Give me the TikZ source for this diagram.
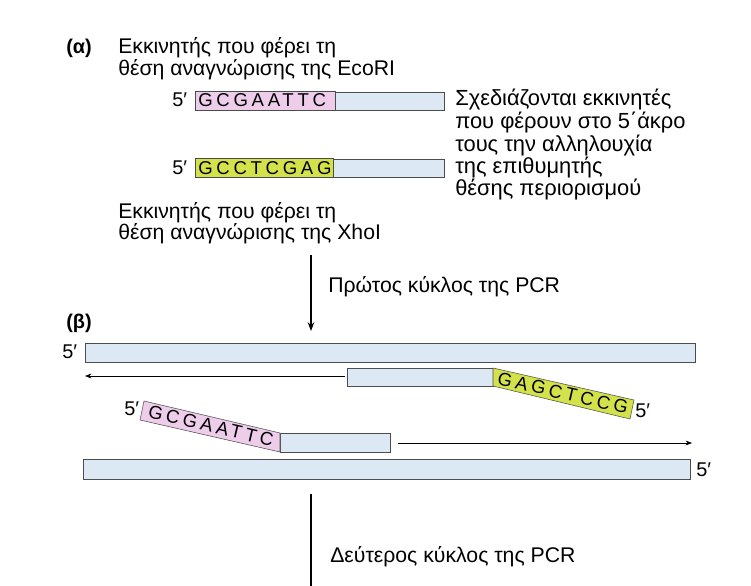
\documentclass[tikz,border=0pt]{standalone}
\usepackage{fontspec}
\setmainfont{Liberation Sans}
\usetikzlibrary{positioning, arrows.meta}
\definecolor{pinkbox}{HTML}{EDCDEA}
\definecolor{bluebox}{HTML}{DCE8F3}
\definecolor{greenbox}{HTML}{D3E14B}
\begin{document}
\begin{tikzpicture}[x=0.0265cm, y=-0.0265cm, >=Stealth, every node/.style={font=\fontsize{16}{18}\selectfont},
    strand/.style={draw=black!70, fill=bluebox},
    seq/.style={font=\fontsize{14}{16}\selectfont\addfontfeature{LetterSpace=20}},
    note/.style={font=\fontsize{16.5}{18}\selectfont},
    cyc/.style={font=\fontsize{16}{18}\selectfont},
    lbl/.style={anchor=west, inner sep=0pt}]
    \useasboundingbox (0,0) rectangle (751,586);
    % (a) primers
    \node[lbl, font=\fontsize{15}{17}\selectfont\bfseries] (ta) at (66,48) {(α)};
    \node[lbl] (t1) at (118,48) {Εκκινητής που φέρει τη};
    \node[lbl] (t2) at (118,70) {θέση αναγνώρισης της EcoRI};
    \draw[strand] (335,92) rectangle (444,110);
    \draw[draw=black!70, fill=pinkbox] (195,91) rectangle (335,110);
    \node[seq, lbl] (p1) at (198,100) {GCGAATTC};
    \node[lbl, font=\fontsize{15}{17}\selectfont] (f1) at (172,100) {5′};
    \draw[strand] (333,159) rectangle (444,177);
    \draw[draw=black!70, fill=greenbox] (195,158) rectangle (333,177);
    \node[seq, lbl] (p2) at (198,168) {GCCTCGAG};
    \node[lbl, font=\fontsize{15}{17}\selectfont] (f2) at (172,168) {5′};
    % right-hand note
    \node[lbl, note] (r1) at (455,100) {Σχεδιάζονται εκκινητές};
    \node[lbl, note] (r2) at (455,123) {που φέρουν στο 5΄άκρο};
    \node[lbl, note] (r3) at (455,146) {τους την αλληλουχία};
    \node[lbl, note] (r4) at (455,168) {της επιθυμητής};
    \node[lbl, note] (r5) at (455,190) {θέσης περιορισμού};
    \node[lbl] (t3) at (118,213) {Εκκινητής που φέρει τη};
    \node[lbl] (t4) at (118,234) {θέση αναγνώρισης της XhoI};
    % first cycle
    \coordinate (c1) at (311,255);
    \coordinate (c2) at (311,331);
    \draw[->, thick] (c1) -- (c2);
    \node[lbl, cyc] (k1) at (328,287) {Πρώτος κύκλος της PCR};
    % (b)
    \node[lbl, font=\fontsize{15}{17}\selectfont\bfseries] (tb) at (66,323) {(β)};
    \draw[strand] (85,343) rectangle (695,362);
    \node[lbl, font=\fontsize{15}{17}\selectfont] (f3) at (62,352) {5′};
    \coordinate (e1) at (345,376);
    \coordinate (e2) at (85,376);
    \draw[->] (e1) -- (e2);
    \draw[strand] (347,368) rectangle (493,386);
    \draw[draw=black!70, fill=greenbox] (493,368) -- (634,400) -- (630,419) -- (493,386) -- cycle;
    \node[seq, rotate=-13] (p3) at (563,393) {GAGCTCCG};
    \node[lbl, font=\fontsize{15}{17}\selectfont] (f4) at (635,411) {5′};
    \draw[strand] (280,433) rectangle (390,452);
    \draw[draw=black!70, fill=pinkbox] (144,401) -- (280,433) -- (280,452) -- (140,420) -- cycle;
    \node[seq, rotate=-13] (p4) at (211,426) {GCGAATTC};
    \node[lbl, font=\fontsize{15}{17}\selectfont] (f5) at (124,409) {5′};
    \coordinate (e3) at (398,443);
    \coordinate (e4) at (692,443);
    \draw[->] (e3) -- (e4);
    \draw[strand] (83,459) rectangle (690,479);
    \node[lbl, font=\fontsize{15}{17}\selectfont] (f6) at (696,470) {5′};
    % second cycle
    \coordinate (c3) at (311,494);
    \coordinate (c4) at (311,586);
    \draw[thick] (c3) -- (c4);
    \node[lbl, cyc] (k2) at (330,557) {Δεύτερος κύκλος της PCR};
\end{tikzpicture}
\end{document}
